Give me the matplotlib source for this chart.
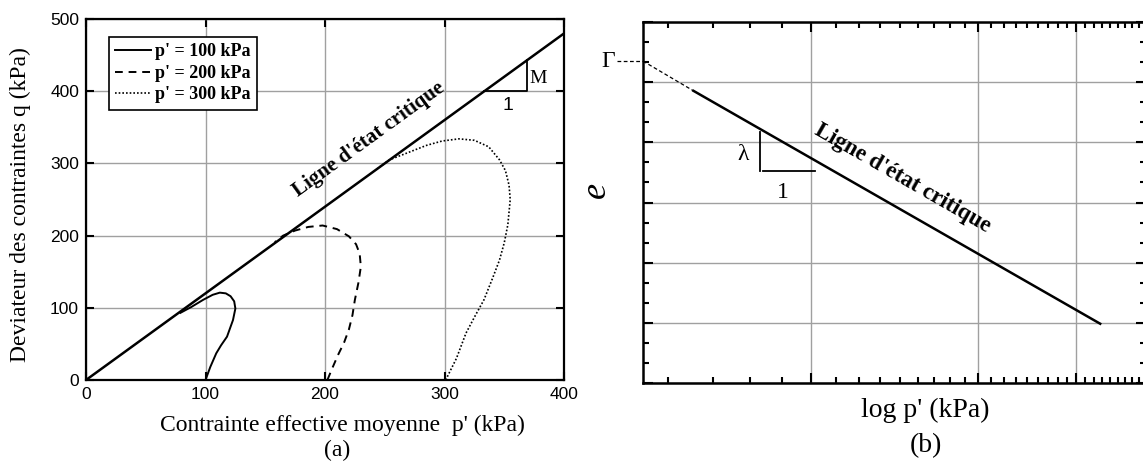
import numpy as np
import matplotlib
matplotlib.use("Agg")
import matplotlib.pyplot as plt

plt.rcParams['font.family'] = 'Liberation Serif'
plt.rcParams['mathtext.fontset'] = 'custom'
plt.rcParams['mathtext.rm'] = 'Liberation Serif'
plt.rcParams['mathtext.it'] = 'Liberation Serif:italic'

# (a) critical state line q = M p'
M = 1.2
csl_p = [0, 400]

# stress paths (p', q) in kPa
p100 = [100, 104, 109, 113, 118, 123, 125, 124, 121, 117, 112, 106, 98, 88, 79]
q100 = [0, 18, 37, 48, 60, 83, 99, 109, 116, 120, 121, 118, 111, 101, 93]

p200 = [202, 206, 211, 216, 220, 223, 225, 228, 230, 229, 226, 220, 210, 198, 186, 175, 165, 158]
q200 = [0, 16, 35, 52, 70, 90, 111, 135, 157, 175, 188, 199, 209, 214, 212, 207, 200, 191]

p300 = [301, 310, 318, 326, 333, 340, 346, 350, 353, 355, 354, 351, 346, 337, 325, 312, 298, 285, 268, 254, 244]
q300 = [0, 30, 65, 90, 111, 140, 166, 190, 215, 250, 270, 290, 305, 323, 332, 334, 331, 325, 314, 305, 293]

legend_labels = ["p' = 100 kPa", "p' = 200 kPa", "p' = 300 kPa"]

# (b) critical state line in e - log p'
csl_logp = [6.16, 33.1]
csl_e = [4.856, 0.985]
gamma_p = [5.0, 6.16]
gamma_e = [5.35, 4.856]

W, H = 1143, 462
fig = plt.figure(figsize=(W / 100, H / 100), dpi=100)


def box(l, t, r, b):
    return [l / W, 1 - b / H, (r - l) / W, (b - t) / H]


# ---------------- panel (a)
ax1 = fig.add_axes(box(86, 19, 564, 380))
ax1.plot(csl_p, [M * p for p in csl_p], color='black', lw=1.8)
h1, = ax1.plot(p100, q100, color='black', lw=1.4, label=legend_labels[0])
h2, = ax1.plot(p200, q200, color='black', lw=1.4, ls=(0, (4, 3)), label=legend_labels[1])
h3, = ax1.plot(p300, q300, color='black', lw=1.2, ls=(0, (1, 1.2)), label=legend_labels[2])
ax1.set_xlim(0, 400)
ax1.set_ylim(0, 500)
ax1.set_xticks([0, 100, 200, 300, 400])
ax1.set_yticks([0, 100, 200, 300, 400, 500])
ax1.grid(True, color='#a0a0a0', lw=1)
ax1.tick_params(direction='in', top=True, right=True, length=6, width=1.5, pad=5)
for lab in ax1.get_xticklabels() + ax1.get_yticklabels():
    lab.set_fontfamily('Liberation Sans')
    lab.set_fontsize(12.5)
for s in ax1.spines.values():
    s.set_linewidth(1.6)

leg = ax1.legend(handles=[h1, h2, h3], loc='upper left', bbox_to_anchor=(0.048, 0.95),
                 borderaxespad=0, fancybox=False, edgecolor='black', framealpha=1,
                 prop={'family': 'Liberation Serif', 'weight': 'bold', 'size': 13},
                 handlelength=2.0, handletextpad=0.2, labelspacing=0.25, borderpad=0.35)
leg.get_frame().set_linewidth(1.2)

# slope triangle
ax1.plot([400 / M, 369, 369], [400, 400, 369 * M], color='black', lw=1.3)
ax1.text(371, 418, 'M', fontsize=14, va='center', ha='left')
ax1.text(353, 380, '1', fontsize=14, va='center', ha='center', family='Liberation Sans')

ang1 = ax1.transData.transform_angles(np.array([np.degrees(np.arctan2(M * 400, 400))]),
                                      np.array([[200, 240]]))[0]
ax1.text(237, 333, "Ligne d'état critique", rotation=ang1, rotation_mode='anchor',
         ha='center', va='center', fontsize=15, fontweight='bold')

fig.text(342 / W, 1 - 425 / H, "Contrainte effective moyenne  p' (kPa)", ha='center', va='center',
         fontsize=17)
fig.text(337 / W, 1 - 450 / H, "(a)", ha='center', va='center', fontsize=17)
fig.text(20 / W, 1 - 205 / H, "Deviateur des contraintes q (kPa)", ha='center', va='center',
         fontsize=17, rotation=90)

# ---------------- panel (b)
ax2 = fig.add_axes(box(643, 22, 1146, 383))
ax2.set_xscale('log')
ax2.set_xlim(5, 40)
ax2.set_ylim(0, 6)
ax2.plot(csl_logp, csl_e, color='black', lw=1.8)
ax2.plot(gamma_p, gamma_e, color='black', lw=0.9, ls=(0, (3, 2)))
ax2.plot([4.49, 5.0], [5.35, 5.35], color='black', lw=0.9, ls=(0, (3, 2)), clip_on=False)
ax2.text(4.45, 5.35, 'Γ', fontsize=17, ha='right', va='center')

major_x = [10, 20, 30]
minor_x = [10 - k * 10 / 9 for k in range(1, 5)]
for m in major_x:
    minor_x += [m + k * 10 / 9 for k in range(1, 9)]
minor_x = [v for v in minor_x if v < 40]
ax2.xaxis.set_major_locator(matplotlib.ticker.FixedLocator(major_x))
ax2.xaxis.set_minor_locator(matplotlib.ticker.FixedLocator(minor_x))
ax2.set_yticks([0, 1, 2, 3, 4, 5, 6])
ax2.set_yticks([k / 3 for k in range(19) if k % 3], minor=True)
ax2.grid(True, which='major', color='#a0a0a0', lw=1)
ax2.tick_params(which='both', direction='in', top=True, right=True,
                labelbottom=False, labelleft=False, width=1.5)
ax2.tick_params(which='major', length=7)
ax2.tick_params(which='minor', length=4)
for s in ax2.spines.values():
    s.set_linewidth(1.8)

# slope triangle
ax2.plot([8.12, 8.12], [4.18, 3.53], color='black', lw=1.3)
ax2.plot([8.2, 10.2], [3.53, 3.53], color='black', lw=1.3)
ax2.text(7.56, 3.79, 'λ', fontsize=17, ha='center', va='center')
ax2.text(8.93, 3.16, '1', fontsize=17, ha='center', va='center')

p0 = ax2.transData.transform([[csl_logp[0], csl_e[0]], [csl_logp[1], csl_e[1]]])
ang2 = np.degrees(np.arctan2(p0[1, 1] - p0[0, 1], p0[1, 0] - p0[0, 0]))
ax2.text(14.6, 3.4, "Ligne d'état critique", rotation=ang2, rotation_mode='anchor',
         ha='center', va='center', fontsize=16.5, fontweight='bold')

fig.text(925 / W, 1 - 410 / H, "log p' (kPa)", ha='center', va='center', fontsize=20)
fig.text(926 / W, 1 - 446 / H, "(b)", ha='center', va='center', fontsize=20)
fig.text(597 / W, 1 - 191 / H, r'$e$', ha='center', va='center', fontsize=26, rotation=90)

fig.savefig('out.png', dpi=100)
